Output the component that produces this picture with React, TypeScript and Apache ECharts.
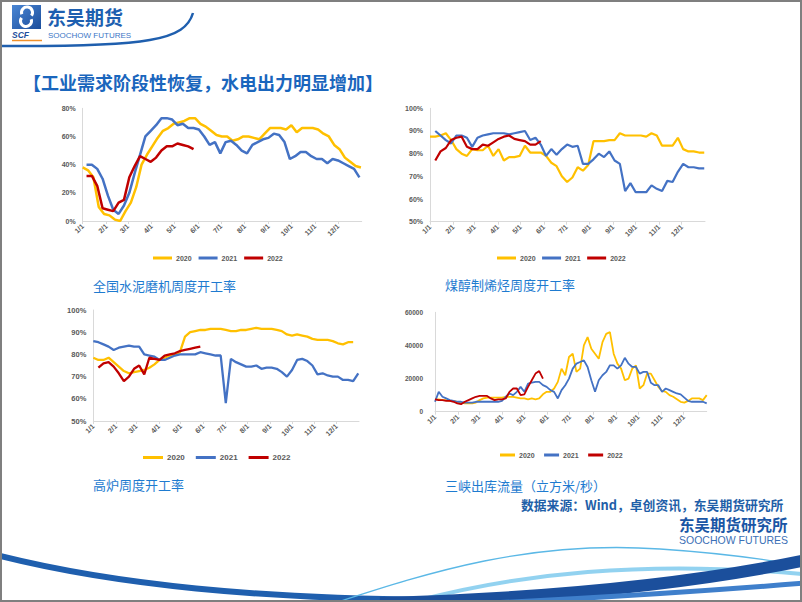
import React, { useEffect, useRef } from "react";
import * as echarts from "echarts";

// ---------- axis / category data ----------
const MONTH_DAYS = [0, 31, 59, 90, 120, 151, 181, 212, 243, 273, 304, 334];
const MONTH_LABELS = ["1/1", "2/1", "3/1", "4/1", "5/1", "6/1", "7/1", "8/1", "9/1", "10/1", "11/1", "12/1"];
const YEARS = ["2020", "2021", "2022"];
const COLORS = ["#FFC000", "#4472C4", "#C00000"];
const WEEK = 7;

// ---------- 全国水泥磨机周度开工率 (%) weekly ----------
const CEMENT_START = [0, 5, 5];
const cement2020 = [38, 36, 31, 10, 5, 4, 1, 0, 7, 13, 24, 40, 47, 53, 59, 64, 66, 69, 70, 71, 73, 73, 69, 67, 64, 61, 60, 60, 57, 58, 60, 60, 59, 58, 62, 66, 66, 66, 65, 68, 63, 66, 66, 66, 65, 62, 60, 54, 51, 45, 42, 39, 38];
const cement2021 = [40, 40, 37, 30, 18, 8, 5, 11, 20, 34, 47, 60, 64, 68, 73, 73, 72, 68, 69, 66, 66, 65, 60, 54, 56, 48, 56, 57, 54, 50, 48, 54, 56, 58, 59, 62, 61, 56, 44, 46, 49, 49, 46, 44, 44, 41, 44, 43, 41, 39, 37, 31];
const cement2022 = [32, 32, 25, 9, 8, 7, 13, 15, 31, 39, 46, 44, 42, 45, 50, 53, 53, 55, 54, 53, 51];
const CEMENT_TICKS = [0, 20, 40, 60, 80];

// ---------- 煤醇制烯烃周度开工率 (%) weekly ----------
const MTO_START = [0, 7, 7];
const mto2020 = [87.5, 87.5, 88, 89, 86, 82, 80, 79, 82, 81.5, 81.5, 83.5, 79, 82, 77, 78.5, 78.5, 79, 83.5, 80.5, 80.5, 80.5, 79, 76, 74.5, 70, 67.5, 69.5, 74, 72.5, 75, 85.5, 85.5, 85.5, 86, 86, 89, 88, 88, 88, 88, 87.5, 89, 88, 83.5, 83.5, 83.5, 87, 82, 81, 81, 80.5, 80.5];
const mto2021 = [90, 88, 86, 84.5, 88, 88, 87, 83, 87, 88, 88.5, 89, 89, 89, 88.5, 89, 89.5, 90, 86, 87, 84, 79, 82, 79.5, 82, 84, 83, 83.5, 75.5, 75.5, 77.5, 80, 78.5, 81, 77, 75.5, 63.5, 67, 63, 63, 63, 66, 64.5, 63.5, 68, 67.5, 72, 75.5, 74, 74, 73.5, 73.5];
const mto2022 = [77, 81, 82.5, 86, 87, 87.5, 83, 82, 82, 84, 83.5, 85, 86.5, 87.5, 88, 86.5, 86, 85.5, 84, 84, 85.5];

// ---------- 高炉周度开工率 (%) weekly ----------
const BF_START = [0, 0, 7];
const bf2020 = [78.5, 77.5, 77.5, 78.5, 76.5, 74.5, 72.5, 71.5, 72, 72.5, 73, 74, 75.5, 77.5, 78.5, 79.5, 80, 81, 88, 90, 90.5, 91, 91, 91.5, 91.5, 91.5, 91, 90.5, 90.5, 91, 91, 91.5, 92, 91.5, 91.5, 91.5, 91, 90.5, 89, 88.5, 89, 88.5, 88, 87, 86.5, 86.5, 86.5, 86, 85, 84.5, 85.5, 85.5];
const bf2021 = [86, 85.5, 84.5, 83.5, 82, 83, 83.5, 84, 83.5, 83.5, 80, 79.5, 79, 77.5, 77.5, 78.5, 79.5, 80, 80, 80, 80, 81, 80.5, 80, 79.5, 79.5, 58, 78, 76.5, 75.5, 74.5, 74.5, 75, 73.5, 74, 74, 73.5, 72, 70, 73, 77.5, 78, 77, 75, 71, 71.5, 70.5, 70, 70, 68.5, 68.5, 68, 71.5];
const bf2022 = [74, 76, 76.5, 74.5, 71.5, 68, 70, 73.5, 75, 71, 78.5, 78, 77.5, 79.5, 80, 80.5, 81.5, 82, 82.5, 83, 83.5];

// ---------- 三峡出库流量 (立方米/秒), sampled every 5 days ----------
const TG_STEP = 5;
const tg2020 = [7500, 7500, 7000, 7000, 6500, 6500, 6000, 5500, 5000, 5000, 5000, 5500, 7000, 8000, 8500, 8500, 8500, 8500, 8500, 9000, 9000, 9000, 8500, 8000, 8000, 7500, 8000, 7500, 8000, 10500, 12000, 12000, 14000, 18000, 26000, 22000, 33000, 35000, 24000, 26000, 40000, 45000, 38000, 35000, 32000, 42000, 47000, 48000, 35000, 29000, 26000, 19000, 20000, 26000, 28000, 14000, 16000, 23000, 23000, 19000, 15000, 12500, 12000, 10000, 9000, 7500, 6000, 5500, 6500, 8000, 8000, 8000, 7000, 10000];
const tg2021 = [6000, 12000, 9000, 8000, 7000, 6500, 6000, 6000, 5500, 5500, 5500, 6000, 6000, 6000, 6000, 6000, 6000, 6000, 6500, 9000, 11000, 10000, 12000, 15000, 12000, 17000, 17500, 18000, 18000, 16000, 15000, 13000, 12000, 8000, 13000, 16000, 20000, 26000, 29000, 30000, 31000, 27000, 19000, 12000, 19000, 22000, 24000, 28000, 28000, 26000, 28000, 32500, 29000, 27000, 27000, 23000, 24000, 24000, 17500, 16000, 16000, 12000, 14000, 13000, 12000, 11000, 10500, 8500, 6500, 6000, 6000, 6000, 6000, 5000];
const tg2022 = [7500, 7000, 7000, 6500, 6500, 6000, 5000, 4500, 6000, 7000, 8000, 9000, 9500, 9500, 9500, 8000, 7000, 7500, 7500, 8000, 12000, 14000, 14000, 10000, 10500, 15000, 19000, 23000, 24500, 20000];
const TG_TICKS = [0, 20000, 40000, 60000];

// ---------- texts ----------
const TITLE = "【工业需求阶段性恢复，水电出力明显增加】";
const SUBTITLES = ["全国水泥磨机周度开工率", "煤醇制烯烃周度开工率", "高炉周度开工率", "三峡出库流量（立方米/秒）"];
const SOURCE = "数据来源：Wind，卓创资讯，东吴期货研究所";

const CJK = '"Noto Sans CJK SC", "Noto Sans", sans-serif';
const LAT = '"Liberation Sans", Arial, sans-serif';
const AXIS_GRAY = "#595959";
const LINE_GRAY = "#d9d9d9";

const weekly = (vals: number[], start: number) => vals.map((v, i) => [start + i * WEEK, v]);
const stepped = (vals: number[], step: number) => vals.map((v, i) => [i * step, v]);

function monthLabel(v: number) {
  const k = MONTH_DAYS.indexOf(v);
  return k >= 0 ? MONTH_LABELS[k] : "";
}

function xAxis(gridIndex: number) {
  return {
    type: "value",
    gridIndex,
    min: 0,
    max: 365,
    axisLine: { show: true, onZero: false, lineStyle: { color: LINE_GRAY, width: 1 } },
    axisTick: { show: true, customValues: MONTH_DAYS, length: 3, lineStyle: { color: LINE_GRAY } },
    axisLabel: {
      customValues: MONTH_DAYS,
      rotate: 45,
      fontSize: 7,
      fontWeight: "bold",
      color: AXIS_GRAY,
      fontFamily: LAT,
      margin: 4,
      formatter: (v: number) => monthLabel(v),
    },
    splitLine: { show: false },
  };
}

function yAxis(gridIndex: number, min: number, max: number, interval: number, pct: boolean, fontSize: number, margin: number) {
  return {
    type: "value",
    gridIndex,
    min,
    max,
    interval,
    axisLine: { show: true, lineStyle: { color: LINE_GRAY, width: 1 } },
    axisTick: { show: false },
    splitLine: { show: false },
    axisLabel: {
      fontSize,
      fontWeight: "bold",
      color: AXIS_GRAY,
      fontFamily: LAT,
      margin,
      formatter: (v: number) => (pct ? v + "%" : String(v)),
    },
  };
}

function legend(left: number, top: number, itemWidth: number, fontSize: number, itemGap: number) {
  return {
    data: YEARS,
    left,
    top,
    orient: "horizontal",
    icon: "rect",
    itemWidth,
    itemHeight: 3,
    itemGap,
    padding: 0,
    selectedMode: false,
    textStyle: { fontSize, fontWeight: "bold", color: AXIS_GRAY, fontFamily: LAT, padding: [0, 0, 0, -1] },
  };
}

function line(name: string, idx: number, data: number[][], width: number, k: number) {
  return {
    type: "line",
    name,
    xAxisIndex: idx,
    yAxisIndex: idx,
    data,
    showSymbol: false,
    symbol: "none",
    smooth: false,
    lineStyle: { color: COLORS[k], width },
    itemStyle: { color: COLORS[k] },
    emphasis: { disabled: true },
  };
}

function subtitle(text: string, x: number, y: number) {
  return {
    type: "text",
    x,
    y,
    style: { text, fill: "#1e7bd0", font: `13px ${CJK}`, align: "left", verticalAlign: "middle" },
  };
}

export default function App() {
  const ref = useRef<HTMLDivElement>(null);

  useEffect(() => {
    if (!ref.current) return;
    const chart = echarts.init(ref.current, undefined, { renderer: "svg" });

    const option: any = {
      animation: false,
      backgroundColor: "#ffffff",
      grid: [
        { left: 82.7, top: 108.3, width: 279, height: 112.7 },
        { left: 430, top: 108.3, width: 275, height: 113.4 },
        { left: 93.3, top: 310, width: 265.7, height: 111 },
        { left: 435, top: 312.3, width: 271.7, height: 99.4 },
      ],
      xAxis: [xAxis(0), xAxis(1), xAxis(2), xAxis(3)],
      yAxis: [
        yAxis(0, CEMENT_TICKS[0], CEMENT_TICKS[CEMENT_TICKS.length - 1], 20, true, 7, 7),
        yAxis(1, 50, 100, 10, true, 7, 7),
        yAxis(2, 50, 100, 10, true, 7.5, 7),
        yAxis(3, TG_TICKS[0], TG_TICKS[TG_TICKS.length - 1], 20000, false, 6.5, 12),
      ],
      legend: [
        legend(153, 254.5, 19, 7, 7),
        legend(497, 254.5, 19, 7, 6.5),
        legend(143, 453.5, 20, 8, 11),
        legend(500, 451.5, 15, 7, 9.5),
      ],
      series: [
        line("2020", 0, weekly(cement2020, CEMENT_START[0]), 2.5, 0),
        line("2021", 0, weekly(cement2021, CEMENT_START[1]), 2.5, 1),
        line("2022", 0, weekly(cement2022, CEMENT_START[2]), 2.5, 2),
        line("2020", 1, weekly(mto2020, MTO_START[0]), 2.2, 0),
        line("2021", 1, weekly(mto2021, MTO_START[1]), 2.2, 1),
        line("2022", 1, weekly(mto2022, MTO_START[2]), 2.2, 2),
        line("2020", 2, weekly(bf2020, BF_START[0]), 2.3, 0),
        line("2021", 2, weekly(bf2021, BF_START[1]), 2.3, 1),
        line("2022", 2, weekly(bf2022, BF_START[2]), 2.3, 2),
        line("2020", 3, stepped(tg2020, TG_STEP), 1.8, 0),
        line("2021", 3, stepped(tg2021, TG_STEP), 1.8, 1),
        line("2022", 3, stepped(tg2022, TG_STEP), 1.8, 2),
      ],
      graphic: [
        // slide frame
        { type: "rect", z: 100, shape: { x: 1, y: 1, width: 800, height: 600 }, style: { fill: "none", stroke: "#7f7f7f", lineWidth: 2 } },
        // header curve
        { type: "bezierCurve", shape: { x1: 0, y1: 46, cpx1: 150, cpy1: 47, cpx2: 185, cpy2: 40, x2: 193, y2: 13 }, style: { stroke: "#1f5fae", lineWidth: 2.5, fill: "none" } },
        // logo icon
        {
          type: "rect",
          shape: { x: 12, y: 5, width: 29, height: 24 },
          style: {
            fill: new echarts.graphic.LinearGradient(0, 0, 1, 1, [
              { offset: 0, color: "#4a86d4" },
              { offset: 1, color: "#1c4e9c" },
            ]),
          },
        },
        { type: "arc", shape: { cx: 27, cy: 12.5, r: 5.5, startAngle: Math.PI * 0.9, endAngle: Math.PI * 2.2 }, style: { stroke: "#ffffff", lineWidth: 3, fill: "none" } },
        { type: "arc", shape: { cx: 26, cy: 21, r: 5.5, startAngle: -Math.PI * 0.1, endAngle: Math.PI * 1.2 }, style: { stroke: "#ffffff", lineWidth: 3, fill: "none" } },
        { type: "text", x: 12, y: 34.5, style: { text: "SCF", fill: "#1c4e9c", font: `italic bold 8.5px ${LAT}`, verticalAlign: "middle" } },
        { type: "line", shape: { x1: 12, y1: 40.5, x2: 42, y2: 40.5 }, style: { stroke: "#f0902a", lineWidth: 1.5 } },
        { type: "text", x: 47, y: 16.5, style: { text: "东吴期货", fill: "#1d5fb0", font: `bold 19px ${CJK}`, verticalAlign: "middle" } },
        { type: "text", x: 48, y: 35, style: { text: "SOOCHOW FUTURES", fill: "#3a76c6", font: `8px ${LAT}`, verticalAlign: "middle" } },
        // title
        { type: "text", x: 23, y: 82, style: { text: TITLE, fill: "#1a66bd", font: `bold 18px ${CJK}`, verticalAlign: "middle" } },
        // subtitles
        subtitle(SUBTITLES[0], 93, 285),
        subtitle(SUBTITLES[1], 445, 284),
        subtitle(SUBTITLES[2], 93, 484),
        subtitle(SUBTITLES[3], 445, 485),
        // source
        { type: "text", x: 521, y: 504, style: { text: SOURCE, fill: "#1f5fa8", font: `bold 12.8px ${CJK}`, verticalAlign: "middle" } },
        // footer logo
        { type: "text", x: 679, y: 524, style: { text: "东吴期货研究所", fill: "#1a56a5", font: `bold 15.5px ${CJK}`, verticalAlign: "middle" } },
        { type: "text", x: 679, y: 540, style: { text: "SOOCHOW FUTURES", fill: "#3b6fb6", font: `10.5px ${LAT}`, verticalAlign: "middle" } },
        // footer swooshes
        { type: "bezierCurve", shape: { x1: 0, y1: 556, cpx1: 120, cpy1: 586, cpx2: 260, cpy2: 598, x2: 430, y2: 600 }, style: { stroke: "#1f5fae", lineWidth: 6, fill: "none" } },
        { type: "bezierCurve", shape: { x1: 335, y1: 603, cpx1: 430, cpy1: 572, cpx2: 530, cpy2: 540, x2: 660, y2: 549 }, style: { stroke: "#5bb8e6", lineWidth: 1.3, fill: "none" } },
        { type: "bezierCurve", shape: { x1: 660, y1: 549, cpx1: 720, cpy1: 553, cpx2: 770, cpy2: 560, x2: 802, y2: 566 }, style: { stroke: "#5bb8e6", lineWidth: 1.3, fill: "none" } },
        { type: "bezierCurve", shape: { x1: 420, y1: 600, cpx1: 520, cpy1: 574, cpx2: 640, cpy2: 560, x2: 802, y2: 574 }, style: { stroke: "#86cdee", lineWidth: 4, fill: "none", opacity: 0.9 } },
        { type: "bezierCurve", shape: { x1: 380, y1: 603, cpx1: 560, cpy1: 598, cpx2: 700, cpy2: 582, x2: 806, y2: 560 }, style: { stroke: "#1b4f9c", lineWidth: 12, fill: "none" } },
        { type: "bezierCurve", shape: { x1: 470, y1: 604, cpx1: 600, cpy1: 598, cpx2: 720, cpy2: 590, x2: 806, y2: 583 }, style: { stroke: "#3f7fcb", lineWidth: 5, fill: "none" } },
      ],
    };

    chart.setOption(option);
    return () => chart.dispose();
  }, []);

  return (
    <div
      ref={ref}
      style={{ position: "fixed", left: 0, top: 0, width: 802, height: 602, background: "#ffffff" }}
    />
  );
}
